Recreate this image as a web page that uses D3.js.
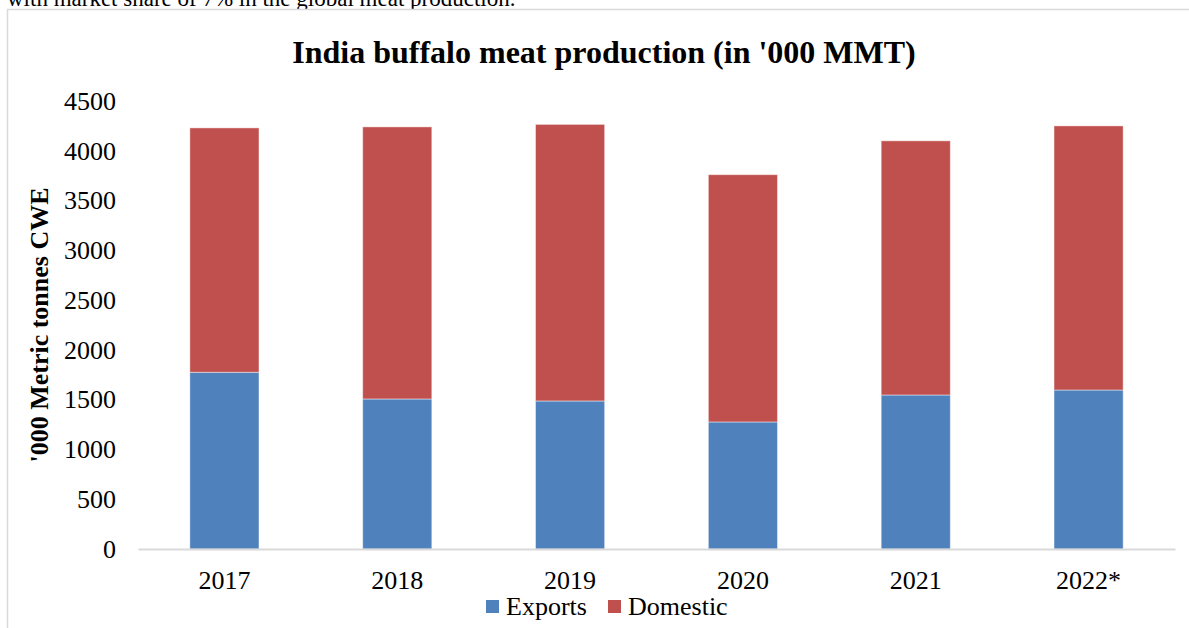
<!DOCTYPE html>
<html lang="en">
<head>
    <meta charset="UTF-8">
    <title>India buffalo meat production</title>
    <script src="https://d3js.org/d3.v7.min.js"></script>
    <style>
        html, body { margin: 0; padding: 0; background: #fff; overflow: hidden; }
        body { font-family: "Liberation Serif", "Times New Roman", serif; }
    </style>
</head>
<body>
    <div id="chart"></div>
    <script>
        const years = ["2017", "2018", "2019", "2020", "2021", "2022*"];
        const exportsVals = [1775, 1507, 1487, 1276, 1547, 1597];
        const totalVals = [4230, 4240, 4265, 3760, 4100, 4250];
        const domesticVals = totalVals.map((t, i) => t - exportsVals[i]);
        const yTicks = [0, 500, 1000, 1500, 2000, 2500, 3000, 3500, 4000, 4500];
        const seriesNames = ["Exports", "Domestic"];
        const colors = ["#4F81BD", "#C0504D"];

        const W = 1189, H = 628;
        const svg = d3.select("#chart").append("svg")
            .attr("width", W)
            .attr("height", H);

        // cut-off sentence above the chart (partly hidden, as in the source)
        svg.append("text")
            .attr("x", 7)
            .attr("y", 6)
            .attr("font-size", 23)
            .attr("fill", "#000")
            .text("with market share of 7% in the global meat production.");

        // chart frame
        svg.append("rect")
            .attr("x", 7.5)
            .attr("y", 9.5)
            .attr("width", 1300)
            .attr("height", 700)
            .attr("fill", "#fff")
            .attr("stroke", "#d9d9d9")
            .attr("stroke-width", 1.5);

        const x = d3.scaleBand().domain(years).range([138, 1175]).paddingInner(0.6).paddingOuter(0.3);
        const y = d3.scaleLinear().domain([0, 4500]).range([549, 101]);

        const rows = years.map((yr, i) => ({ year: yr, Exports: exportsVals[i], Domestic: domesticVals[i] }));
        const stacked = d3.stack().keys(seriesNames)(rows);

        svg.append("g")
            .selectAll("g")
            .data(stacked)
            .join("g")
            .attr("fill", (d, i) => colors[i])
            .selectAll("rect")
            .data(d => d)
            .join("rect")
            .attr("x", d => x(d.data.year))
            .attr("y", d => y(d[1]))
            .attr("width", x.bandwidth())
            .attr("height", d => y(d[0]) - y(d[1]))
            .attr("stroke", "rgba(255,255,255,0.45)")
            .attr("stroke-width", 1);

        // y axis labels
        const yAxis = svg.append("g")
            .attr("transform", "translate(130,0)")
            .call(d3.axisLeft(y).tickValues(yTicks).tickFormat(d3.format("d")).tickSize(0).tickPadding(14));
        yAxis.select(".domain").remove();
        yAxis.selectAll("text")
            .attr("font-family", "'Liberation Serif', 'Times New Roman', serif")
            .attr("font-size", 26)
            .attr("fill", "#000");

        // x axis
        const xAxis = svg.append("g")
            .attr("transform", "translate(0,549)")
            .call(d3.axisBottom(x).tickSize(0).tickPadding(22));
        xAxis.select(".domain")
            .attr("stroke", "#d9d9d9")
            .attr("stroke-width", 2);
        xAxis.selectAll("text")
            .attr("font-family", "'Liberation Serif', 'Times New Roman', serif")
            .attr("font-size", 26)
            .attr("fill", "#000");

        // title
        svg.append("text")
            .attr("x", 604)
            .attr("y", 63)
            .attr("text-anchor", "middle")
            .attr("font-size", 32)
            .attr("font-weight", "bold")
            .text("India buffalo meat production (in '000 MMT)");

        // y axis title
        svg.append("text")
            .attr("transform", "translate(48,325) rotate(-90)")
            .attr("text-anchor", "middle")
            .attr("font-size", 26)
            .attr("font-weight", "bold")
            .text("'000 Metric tonnes CWE");

        // legend
        const legendX = [486, 608];
        const legend = svg.append("g");
        seriesNames.forEach((name, i) => {
            legend.append("rect")
                .attr("x", legendX[i])
                .attr("y", 600)
                .attr("width", 13)
                .attr("height", 13)
                .attr("fill", colors[i]);
            legend.append("text")
                .attr("x", legendX[i] + 20)
                .attr("y", 615)
                .attr("font-size", 26)
                .text(name);
        });
    </script>
</body>
</html>
